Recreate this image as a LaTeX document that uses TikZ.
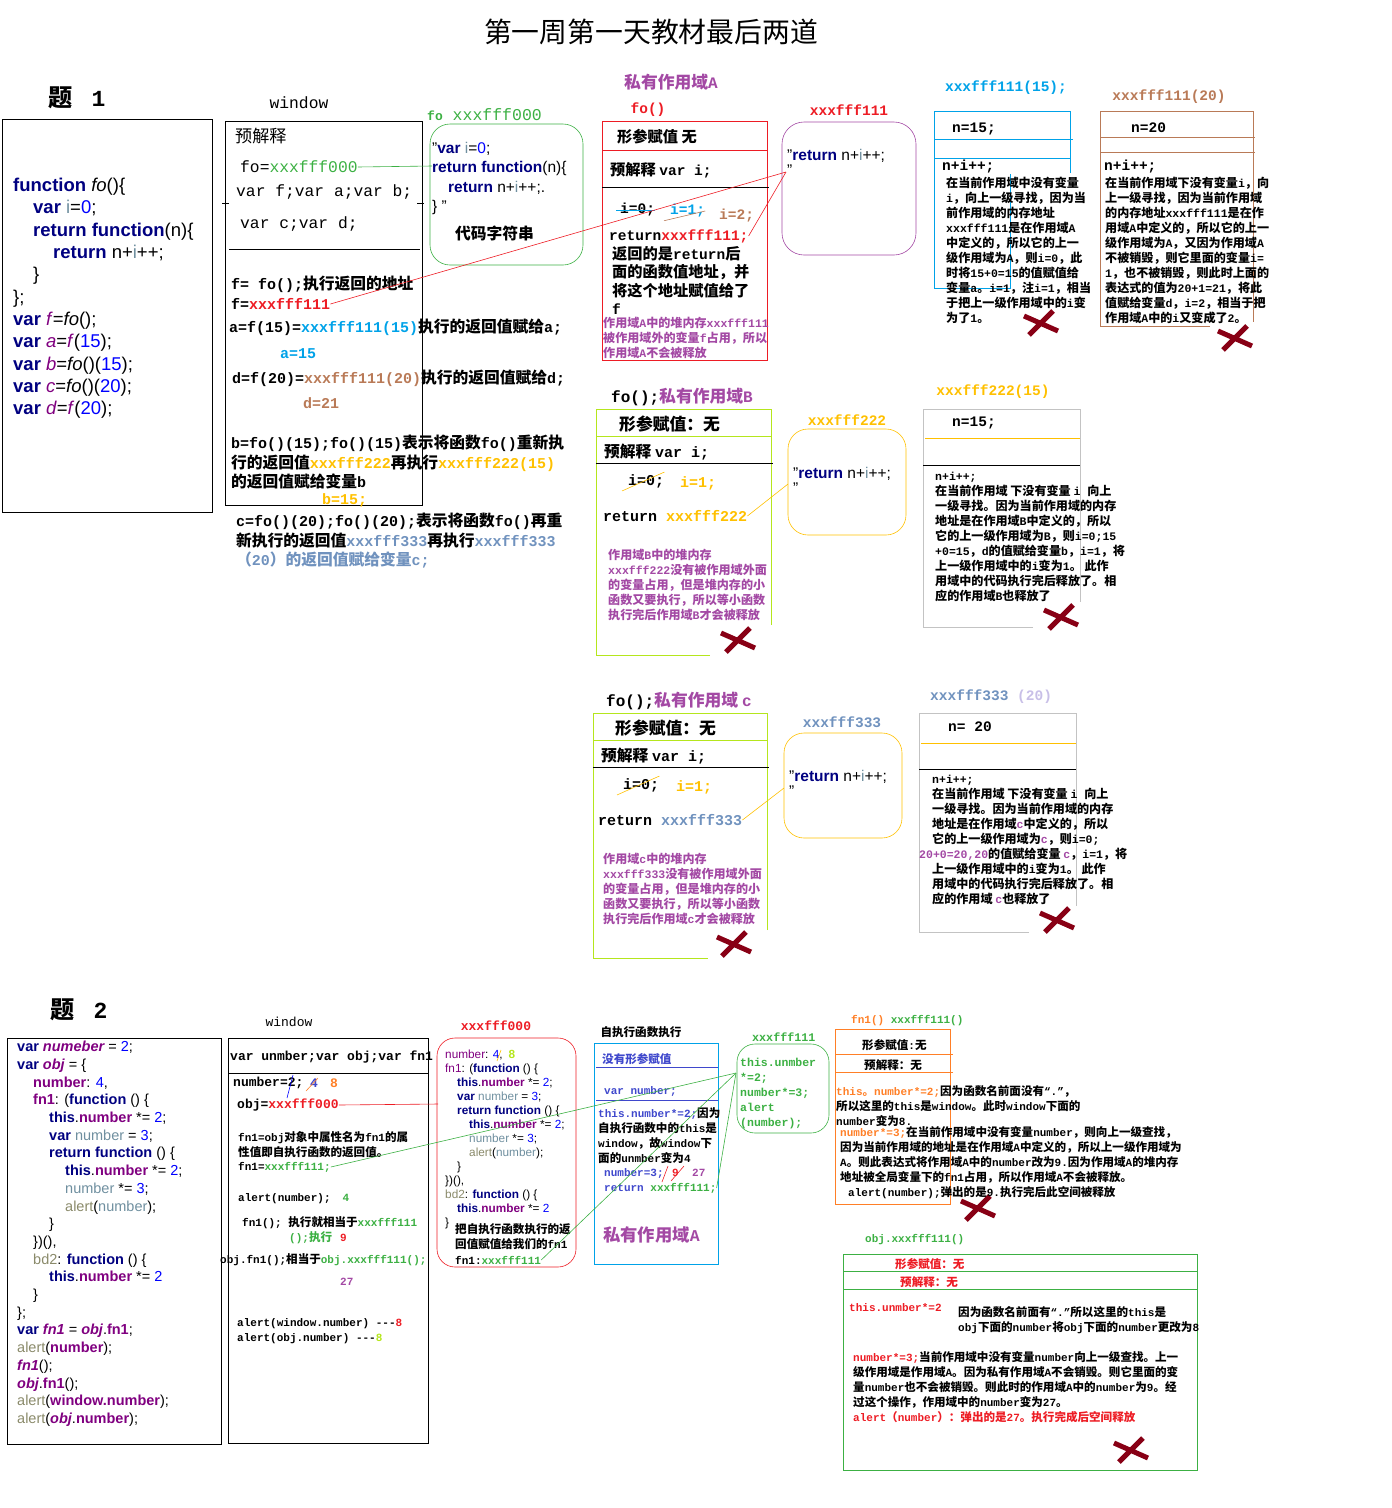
\documentclass[tikz,border=0pt]{standalone}
\usepackage{fontspec}
\setmainfont{Liberation Mono}
\newfontfamily\cjkfont[Scale=1.05]{Noto Sans CJK SC}
\newfontfamily\codefont{Liberation Sans}
% CJK runs switch to the CJK family by themselves
\newXeTeXintercharclass\cjkclass
\newcommand\setcjkrange[2]{\count255=#1\relax
  \loop\XeTeXcharclass\count255=\cjkclass\relax
  \advance\count255 by 1\relax
  \ifnum\count255<#2 \repeat}
\setcjkrange{"3000}{"3040}
\setcjkrange{"4E00}{"A000}
\setcjkrange{"FF00}{"FFF0}
\XeTeXinterchartoks 0 \cjkclass = {\cjkfont}
\XeTeXinterchartoks 4095 \cjkclass = {\cjkfont}
\XeTeXinterchartoks \cjkclass 0 = {\rmfamily}
\XeTeXinterchartoks 4095 0 = {\rmfamily}
\XeTeXinterchartokenstate=1
\newcommand\nocjk{\XeTeXinterchartokenstate=0\relax}
\usetikzlibrary{positioning}
\definecolor{kwnavy}{HTML}{000080}
\definecolor{numblue}{HTML}{0000FF}
\definecolor{idpurple}{HTML}{800080}
\definecolor{idgray}{HTML}{6F8F9F}
\definecolor{alertgray}{HTML}{8A8A6A}
\definecolor{addrgreen}{HTML}{3CB043}
\definecolor{addrred}{HTML}{ED1C24}
\definecolor{scopeviolet}{HTML}{A349A4}
\definecolor{addraqua}{HTML}{00A2E8}
\definecolor{addrbrown}{HTML}{B97A57}
\definecolor{addrgold}{HTML}{FFC000}
\definecolor{addrslate}{HTML}{7092BE}
\definecolor{limebox}{HTML}{B5E61D}
\definecolor{graybox}{HTML}{C3C3C3}
\definecolor{crossred}{HTML}{880015}
\definecolor{fnorange}{HTML}{FF7F27}
\definecolor{lilac}{HTML}{C8BFE7}
\definecolor{selfblue}{HTML}{3F48CC}
\newcommand\kw[1]{\textcolor{kwnavy}{\bfseries #1}}
\tikzset{
  frame/.style={draw=black,line width=0.9pt},
  tx/.style={anchor=west,inner sep=0pt,align=left},
  txn/.style={anchor=north west,inner sep=0pt,align=left},
  win/.style={font=\fontsize{16.3}{20}\selectfont},
  bold15/.style={font=\fontsize{15}{19.5}\selectfont\bfseries},
  bold14/.style={font=\fontsize{14.5}{19}\selectfont\bfseries},
  bold13/.style={font=\fontsize{13}{15}\selectfont\bfseries},
  memo/.style={font=\fontsize{11.5}{15}\selectfont\bfseries},
  small/.style={font=\fontsize{11}{15}\selectfont\bfseries},
  srcbig/.style={font=\nocjk\codefont\fontsize{18.5}{22.3}\selectfont},
  srcbox/.style={font=\nocjk\codefont\fontsize{15.5}{19.3}\selectfont},
  srcmid/.style={font=\nocjk\codefont\fontsize{14.5}{17.7}\selectfont},
  srcsmall/.style={font=\nocjk\codefont\fontsize{11.8}{14}\selectfont},
  thin/.style={line width=0.6pt},
  xmark/.style={draw=crossred,line width=5pt}
}
\begin{document}
\begin{tikzpicture}[x=1pt,y=-1pt]
\useasboundingbox (0,0) rectangle (1392,1508);
\node[font=\fontsize{26.5}{30}\selectfont] (title) at (651,32) {第一周第一天教材最后两道};

% ---- problem 1: source ----
\node[tx,font=\fontsize{23}{26}\selectfont\bfseries] (q1) at (48,98) {题\hspace{0.8em}1};
\draw[frame] (2,119) rectangle (212,512);
\node[txn,srcbig] (src1) at (13,178) {\kw{function} \textit{fo}()\{\\
\hspace*{20pt}\kw{var} \textcolor{idgray}{i}=\textcolor{numblue}{0};\\
\hspace*{20pt}\kw{return function}(n)\{\\
\hspace*{40pt}\kw{return} n+\textcolor{idgray}{i}++;\\
\hspace*{20pt}\}\\
\};\\
\kw{var} \textcolor{idpurple}{\textit{f}}=\textit{fo}();\\
\kw{var} \textcolor{idpurple}{\textit{a}}=\textcolor{idpurple}{\textit{f}}(\textcolor{numblue}{15});\\
\kw{var} \textcolor{idpurple}{\textit{b}}=\textit{fo}()(\textcolor{numblue}{15});\\
\kw{var} \textcolor{idpurple}{\textit{c}}=\textit{fo}()(\textcolor{numblue}{20});\\
\kw{var} \textcolor{idpurple}{\textit{d}}=\textcolor{idpurple}{\textit{f}}(\textcolor{numblue}{20});};

% ---- problem 1: window ----
\node[win] (win1) at (299,103) {window};
\draw[frame] (225,121) rectangle (422,505);
\node[tx,win] (pre1) at (235,136) {预解释};
\node[tx,win] (fo000) at (240,167) {fo=\textcolor{addrgreen}{xxxfff000}};
\node[tx,win] (vars1) at (236,192) {var f;var a;var b;};
\node[tx,win] (vars2) at (240,224) {var c;var d;};
\draw[frame] (222,203) -- (229,203) (417,203) -- (424,203);
\draw[frame] (229,249) -- (420,249);
\node[tx,bold15] (fcall) at (231,284) {f= fo();执行返回的地址};
\node[tx,bold15] (f111) at (231,304) {f=\textcolor{addrred}{xxxfff111}};
\node[tx,bold15] (a15) at (229,327) {a=f(15)=\textcolor{addraqua}{xxxfff111(15)}执行的返回值赋给a;};
\node[tx,bold15,text=addraqua] (aval) at (280,354) {a=15};
\node[tx,bold15] (d20) at (232,378) {d=f(20)=\textcolor{addrbrown}{xxxfff111(20)}执行的返回值赋给d;};
\node[tx,bold15,text=addrbrown] (dval) at (303,403) {d=21};
\node[txn,bold15] (bexp) at (231,435) {b=fo()(15);fo()(15)表示将函数fo()重新执\\
行的返回值\textcolor{addrgold}{xxxfff222}再执行\textcolor{addrgold}{xxxfff222(15)}\\
的返回值赋给变量b};
\node[tx,bold15,text=addrgold] (bval) at (322,500) {b=15;};
\node[txn,bold15] (cexp) at (236,513) {c=fo()(20);fo()(20);表示将函数fo()再重\\
新执行的返回值\textcolor{addrslate}{xxxfff333}再执行\textcolor{addrslate}{xxxfff333}\\
\textcolor{addrslate}{（20）的返回值赋给变量c;}};

% ---- fo xxxfff000 ----
\node[tx,text=addrgreen,font=\fontsize{16.5}{20}\selectfont] (folbl) at (427,115) {{\bfseries\fontsize{13}{15}\selectfont fo} xxxfff000};
\draw[draw=addrgreen,thin,rounded corners=20] (430,124) rectangle (583,265);
\node[txn,srcbox] (fosrc) at (432,142) {”\kw{var} \textcolor{idgray}{i}=\textcolor{numblue}{0};\\
\kw{return function}(n)\{\\
\hspace*{16pt}\kw{return} n+\textcolor{idgray}{i}++;.\\
\} ”};
\node[tx,bold15] (fostr) at (455,233) {代码字符串};
\coordinate (fobox) at (432,166);
\draw[addrgreen,thin] (fo000.east) -- (fobox);

% ---- private scope A ----
\node[font=\fontsize{16}{20}\selectfont\bfseries,text=scopeviolet] (scA) at (671,82) {私有作用域A};
\node[bold14,text=addrred] (foA) at (648,110) {fo()};
\draw[draw=addrred,thin] (602,121) rectangle (767,360);
\draw[draw=addrred,thin] (602,150) -- (767,150);
\draw[frame] (602,187) -- (769,187);
\node[tx,bold14] (argA) at (617,137) {形参赋值 无};
\node[tx,bold14] (preA) at (610,170) {预解释 var i;};
\node[tx,bold14] (i0A) at (620,210) {i=0;};
\draw[addraqua,thin] ([xshift=-4pt]i0A.west) -- (i0A.east);
\node[tx,bold14,text=addraqua] (i1A) at (670,211) {i=1;};
\draw[addrbrown,thin] ([xshift=-6pt,yshift=-3pt]i1A.south west) -- (i1A.east);
\node[tx,bold14,text=addrbrown] (i2A) at (719,216) {i=2;};
\node[tx,bold14] (ret111) at (609,236) {return\textcolor{addrred}{xxxfff111;}};
\node[txn,font=\fontsize{14.5}{18.5}\selectfont\bfseries] (retnote) at (612,246) {返回的是return后\\面的函数值地址，并\\将这个地址赋值给了\\f};
\node[txn,memo,text=scopeviolet] (heapA) at (603,317) {作用域A中的堆内存xxxfff111\\被作用域外的变量f占用，所以\\作用域A不会被释放};

% ---- xxxfff111 ----
\node[bold14,text=addrred] (l111) at (849,110) {xxxfff111};
\draw[draw=scopeviolet,thin,rounded corners=22] (782,122) rectangle (916,255);
\node[txn,srcbox] (src111) at (787,149) {”\kw{return} n+\textcolor{idgray}{i}++;\\[-4pt]”};
\coordinate (q111) at (786,172);
\draw[addrred,thin] (f111.east) -- (q111);
\draw[addrred,thin] (ret111.east) -- (q111);

% ---- xxxfff111(15) ----
\node[bold14,text=addraqua] (l15) at (1006,88) {xxxfff111(15);};
\draw[addraqua,thin] (1070,173) -- (1070,111) -- (934,111) -- (934,288) -- (1010,288) -- (1010,174);
\draw[addraqua,thin] (934,139) -- (1073,139) (934,158) -- (1070,158);
\node[tx,bold14] (n15) at (952,129) {n=15;};
\node[tx,bold14] (ni15) at (942,167) {n+i++;};
\node[txn,memo] (m15) at (946,177) {在当前作用域中没有变量\\i，向上一级寻找，因为当\\前作用域的内存地址\\xxxfff111是在作用域A\\中定义的，所以它的上一\\级作用域为A，则i=0，此\\时将15+0=15的值赋值给\\变量a。i=1，注i=1，相当\\于把上一级作用域中的i变\\为了1。};

% ---- xxxfff111(20) ----
\node[bold14,text=addrbrown] (l20) at (1169,97) {xxxfff111(20)};
\draw[addrbrown,thin] (1210,326) -- (1100,326) -- (1100,111) -- (1253,111) -- (1253,322);
\draw[addrbrown,thin] (1100,137) -- (1255,137) (1100,152) -- (1255,152);
\node[tx,bold14] (n20) at (1131,128) {n=20};
\node[tx,bold14] (ni20) at (1104,167) {n+i++;};
\node[txn,memo] (m20) at (1105,177) {在当前作用域下没有变量i，向\\上一级寻找，因为当前作用域\\的内存地址xxxfff111是在作\\用域A中定义的，所以它的上一\\级作用域为A，又因为作用域A\\不被销毁，则它里面的变量i=\\1，也不被销毁，则此时上面的\\表达式的值为20+1=21，将此\\值赋给变量d，i=2，相当于把\\作用域A中的i又变成了2。};

% ---- private scope B ----
\node[tx,font=\fontsize{16}{20}\selectfont\bfseries] (scB) at (611,397) {fo();\textcolor{scopeviolet}{私有作用域B}};
\draw[limebox,thin] (771,625) -- (771,409) -- (596,409) -- (596,655) -- (710,655);
\draw[limebox,thin] (596,436) -- (771,436);
\draw[frame] (596,463) -- (773,463);
\node[tx,font=\fontsize{16}{20}\selectfont\bfseries] (argB) at (619,424) {形参赋值：无};
\node[tx,bold15] (preB) at (604,452) {预解释 var i;};
\node[tx,bold15] (i0B) at (628,481) {i=0;};
\draw[addrgold,thin] ([xshift=-6pt,yshift=-3pt]i0B.south west) -- ([yshift=2pt]i0B.north east);
\node[tx,bold15,text=addrgold] (i1B) at (680,483) {i=1;};
\node[tx,bold15] (ret222) at (603,516) {return \textcolor{addrgold}{xxxfff222}};
\node[txn,memo,text=scopeviolet] (heapB) at (608,549) {作用域B中的堆内存\\xxxfff222没有被作用域外面\\的变量占用，但是堆内存的小\\函数又要执行，所以等小函数\\执行完后作用域B才会被释放};

% ---- xxxfff222 ----
\node[bold14,text=addrgold] (l222) at (847,420) {xxxfff222};
\draw[addrgold,thin,rounded corners=20] (788,429) rectangle (906,535);
\node[txn,srcbox] (src222) at (793,467) {”\kw{return} n+\textcolor{idgray}{i}++;\\[-4pt]”};
\coordinate (q222) at (788,484);
\draw[addrgold,thin] (ret222.east) -- (q222);

% ---- xxxfff222(15) ----
\node[bold14,text=addrgold] (l222b) at (993,392) {xxxfff222(15)};
\draw[graybox,thin] (1033,627) -- (923,627) -- (923,409) -- (1080,409) -- (1080,602);
\draw[addrgold,thin] (925,438) -- (1080,438);
\draw[frame] (923,465) -- (1080,465);
\node[tx,bold14] (n15b) at (952,423) {n=15;};
\node[txn,memo] (mB) at (935,472) {n+i++;\\在当前作用域 下没有变量 i 向上\\一级寻找。因为当前作用域的内存\\地址是在作用域B中定义的，所以\\它的上一级作用域为B，则i=0;15\\+0=15，d的值赋给变量b，i=1，将\\上一级作用域中的i变为1。 此作\\用域中的代码执行完后释放了。相\\应的作用域B也释放了};

% ---- private scope c ----
\node[tx,font=\fontsize{16}{20}\selectfont\bfseries] (scC) at (606,701) {fo();\textcolor{scopeviolet}{私有作用域 c}};
\draw[limebox,thin] (767,930) -- (767,713) -- (593,713) -- (593,958) -- (708,958);
\draw[limebox,thin] (593,740) -- (767,740);
\draw[frame] (593,767) -- (769,767);
\node[tx,font=\fontsize{16}{20}\selectfont\bfseries] (argC) at (615,728) {形参赋值：无};
\node[tx,bold15] (preC) at (601,756) {预解释 var i;};
\node[tx,bold15] (i0C) at (623,785) {i=0;};
\draw[addrgold,thin] ([xshift=-6pt,yshift=-3pt]i0C.south west) -- ([yshift=2pt]i0C.north east);
\node[tx,bold15,text=addrgold] (i1C) at (676,787) {i=1;};
\node[tx,bold15] (ret333) at (598,820) {return \textcolor{addrslate}{xxxfff333}};
\node[txn,memo,text=scopeviolet] (heapC) at (603,853) {作用域c中的堆内存\\xxxfff333没有被作用域外面\\的变量占用，但是堆内存的小\\函数又要执行，所以等小函数\\执行完后作用域c才会被释放};

% ---- xxxfff333 ----
\node[bold14,text=addrslate] (l333) at (842,722) {xxxfff333};
\draw[addrgold,thin,rounded corners=20] (784,733) rectangle (902,838);
\node[txn,srcbox] (src333) at (789,770) {”\kw{return} n+\textcolor{idgray}{i}++;\\[-4pt]”};
\coordinate (q333) at (784,788);
\draw[addrgold,thin] (ret333.east) -- (q333);

% ---- xxxfff333(20) ----
\node[tx,bold14,text=addrslate] (l333b) at (930,697) {xxxfff333 \textcolor{lilac}{(20)}};
\draw[graybox,thin] (1029,932) -- (919,932) -- (919,713) -- (1076,713) -- (1076,906);
\draw[addrgold,thin] (921,743) -- (1076,743);
\draw[frame] (919,769) -- (1076,769);
\node[tx,bold14] (n20b) at (948,727) {n= 20};
\node[txn,memo] (mC) at (932,775) {n+i++;\\在当前作用域 下没有变量 i 向上\\一级寻找。因为当前作用域的内存\\地址是在作用域\textcolor{scopeviolet}{c}中定义的，所以\\它的上一级作用域为\textcolor{scopeviolet}{c}，则i=0;\\\hspace*{-13pt}\textcolor{scopeviolet}{20+0=20,20}的值赋给变量 \textcolor{scopeviolet}{c}，i=1，将\\上一级作用域中的i变为1。 此作\\用域中的代码执行完后释放了。相\\应的作用域 \textcolor{scopeviolet}{c}也释放了};

\foreach \cx/\cy in {1041/323,1235/338,738/640,1061/617,734/944,1057/920,978/1208,1131/1450}{
  \draw[xmark] (\cx-17,\cy-7) -- (\cx+17,\cy+8) (\cx-12,\cy+12) -- (\cx+12,\cy-12);
}

% ---- problem 2: source ----
\node[tx,font=\fontsize{23}{26}\selectfont\bfseries] (q2) at (50,1010) {题\hspace{0.8em}2};
\draw[frame] (7,1038) rectangle (221,1444);
\node[txn,srcmid] (src2) at (17,1041) {\kw{var} \textcolor{idpurple}{\bfseries\itshape numeber} = \textcolor{numblue}{2};\\
\kw{var} \textcolor{idpurple}{\bfseries\itshape obj} = \{\\
\hspace*{16pt}\textcolor{idpurple}{\bfseries number}: \textcolor{numblue}{4},\\
\hspace*{16pt}\textcolor{idpurple}{\bfseries fn1}: (\kw{function} () \{\\
\hspace*{32pt}\kw{this}.\textcolor{idpurple}{\bfseries number} *= \textcolor{numblue}{2};\\
\hspace*{32pt}\kw{var} \textcolor{idgray}{number} = \textcolor{numblue}{3};\\
\hspace*{32pt}\kw{return function} () \{\\
\hspace*{48pt}\kw{this}.\textcolor{idpurple}{\bfseries number} *= \textcolor{numblue}{2};\\
\hspace*{48pt}\textcolor{idgray}{number} *= \textcolor{numblue}{3};\\
\hspace*{48pt}\textcolor{alertgray}{alert}(\textcolor{idgray}{number});\\
\hspace*{32pt}\}\\
\hspace*{16pt}\})(),\\
\hspace*{16pt}\textcolor{alertgray}{bd2}: \kw{function} () \{\\
\hspace*{32pt}\kw{this}.\textcolor{idpurple}{\bfseries number} *= \textcolor{numblue}{2}\\
\hspace*{16pt}\}\\
\};\\
\kw{var} \textcolor{idpurple}{\bfseries\itshape fn1} = \textcolor{idpurple}{\bfseries\itshape obj}.\textcolor{idpurple}{\bfseries fn1};\\
\textcolor{alertgray}{alert}(\textcolor{idpurple}{\bfseries number});\\
\textcolor{idpurple}{\bfseries\itshape fn1}();\\
\textcolor{idpurple}{\bfseries\itshape obj}.\textcolor{idpurple}{\bfseries fn1}();\\
\textcolor{alertgray}{alert}(\textcolor{idpurple}{\bfseries window.number});\\
\textcolor{alertgray}{alert}(\textcolor{idpurple}{\bfseries\itshape obj}.\textcolor{idpurple}{\bfseries number});};

% ---- problem 2: window ----
\node[font=\fontsize{13}{15}\selectfont] (win2) at (289,1022) {window};
\draw[frame] (228,1038) rectangle (428,1443);
\node[tx,bold13] (vars3) at (230,1057) {var unmber;var obj;var fn1};
\draw[frame] (228,1073) -- (428,1073);
\node[tx,bold13] (num2) at (233,1083) {number=2;};
\node[tx,bold13,text=selfblue] (num4) at (310,1083) {4};
\node[tx,bold13,text=fnorange] (num8) at (330,1083) {8};
\draw[numblue,thin] (293,1075) -- (287,1098);
\draw[fnorange,thin] (306,1091) -- (318,1078);
\node[tx,bold13] (obj000) at (237,1105) {obj=\textcolor{addrred}{xxxfff000}};
\coordinate (box000) at (438,1104);
\draw[addrred,thin] (obj000.east) -- (box000);
\node[txn,small] (fn1note) at (238,1131) {fn1=obj对象中属性名为fn1的属\\性值即自执行函数的返回值。};
\node[tx,small] (fn1val) at (238,1167) {fn1=\textcolor{addrgreen}{xxxfff111;}};
\node[tx,small] (alert1) at (238,1199) {alert(number);\hspace{12pt}\textcolor{addrgreen}{4}};
\node[tx,small] (fn1call) at (242,1223) {fn1(); 执行就相当于\textcolor{addrgreen}{xxxfff111}};
\node[tx,small] (fn1exec) at (289,1238) {\textcolor{addrgreen}{();执行}\hspace{8pt}\textcolor{addrred}{9}};
\node[tx,small] (objcall) at (220,1260) {obj.fn1();相当于\textcolor{addrgreen}{obj.xxxfff111();}};
\node[tx,small,text=scopeviolet] (r27) at (340,1282) {27};
\node[tx,small] (awin) at (237,1324) {alert(window.number) -{}-{}-\textcolor{addrred}{8}};
\node[tx,small] (aobj) at (237,1339) {alert(obj.number)  -{}-{}-\textcolor{limebox}{8}};

% ---- xxxfff000 ----
\node[bold13,text=addrred] (l000) at (496,1026) {xxxfff000};
\draw[addrred,thin,rounded corners=18] (437,1038) rectangle (576,1267);
\node[txn,srcsmall] (src000) at (445,1050) {\textcolor{idpurple}{number}: \textcolor{numblue}{4},\hspace{6pt}\textcolor{limebox}{\bfseries 8}\\
\textcolor{idpurple}{fn1}: (\kw{function} () \{\\
\hspace*{12pt}\kw{this}.\textcolor{idpurple}{\bfseries number} *= \textcolor{numblue}{2};\\
\hspace*{12pt}\kw{var} \textcolor{idgray}{number} = \textcolor{numblue}{3};\\
\hspace*{12pt}\kw{return function} () \{\\
\hspace*{24pt}\kw{this}.\textcolor{idpurple}{\bfseries number} *= \textcolor{numblue}{2};\\
\hspace*{24pt}\textcolor{idgray}{number} *= \textcolor{numblue}{3};\\
\hspace*{24pt}\textcolor{alertgray}{alert}(\textcolor{idgray}{number});\\
\hspace*{12pt}\}\\
\})(),\\
\textcolor{alertgray}{bd2}: \kw{function} () \{\\
\hspace*{12pt}\kw{this}.\textcolor{idpurple}{\bfseries number} *= \textcolor{numblue}{2}\\
\}};
\draw[addrgold,thin] (497,1061) -- (501,1050);
\node[txn,small] (retnote2) at (455,1223) {把自执行函数执行的返\\回值赋值给我们的fn1};
\node[tx,small] (fn1addr) at (455,1260) {fn1:\textcolor{addrgreen}{xxxfff111}};

% ---- self-executing function ----
\node[small] (selfexec) at (641,1032) {自执行函数执行};
\draw[addraqua,thin] (594,1043) rectangle (718,1264);
\draw[selfblue,thin] (596,1067) -- (718,1067) (596,1100) -- (718,1100);
\node[tx,small,text=selfblue] (noarg) at (602,1059) {没有形参赋值};
\node[tx,small,text=selfblue] (varnum) at (604,1091) {var number;};
\node[txn,small] (thisnote) at (598,1107) {\textcolor{selfblue}{this.number*=2;}因为\\自执行函数中的this是\\window，故window下\\面的unmber变为4};
\node[tx,small,text=selfblue] (num3) at (604,1173) {number=3;};
\node[tx,small,text=addrred] (num9) at (672,1173) {9};
\node[tx,small,text=scopeviolet] (num27) at (692,1173) {27};
\draw[addrred,thin] (662,1182) -- (668,1166) (671,1181) -- (684,1166);
\node[tx,small] (ret111b) at (604,1188) {\textcolor{selfblue}{return} \textcolor{addrgreen}{xxxfff111;}};
\node[tx,font=\fontsize{16.5}{20}\selectfont\bfseries,text=scopeviolet] (scA2) at (603,1235) {私有作用域A};

% ---- xxxfff111 (problem 2) ----
\node[tx,font=\fontsize{11.7}{14}\selectfont\bfseries,text=addrgreen] (l111b) at (752,1037) {xxxfff111};
\draw[addrgreen,thin,rounded corners=18] (737,1044) rectangle (829,1133);
\node[txn,memo,text=addrgreen] (src111b) at (740,1058) {this.unmber\\*=2;\\number*=3;\\alert\\(number);};
\coordinate (q111b) at (736,1073);
\draw[addrgreen,thin] (fn1val.east) -- (q111b);
\draw[addrgreen,thin] (fn1addr.east) -- (q111b);
\draw[addrgreen,thin] (ret111b.east) -- (q111b);

% ---- fn1() ----
\node[tx,small] (lfn1) at (851,1021) {\textcolor{fnorange}{fn1()} \textcolor{addrgreen}{xxxfff111()}};
\draw[fnorange,thin] (835,1029) rectangle (950,1204);
\draw[fnorange,thin] (835,1054) -- (953,1054) (835,1072) -- (953,1072);
\node[tx,small] (argF) at (862,1045) {形参赋值:无};
\node[tx,small] (preF) at (864,1065) {预解释：无};
\node[txn,small] (fnote) at (836,1085) {\textcolor{fnorange}{this。number*=2;}因为函数名前面没有“.”，\\所以这里的this是window。此时window下面的\\number变为8.};
\node[txn,small] (fnote2) at (840,1126) {\textcolor{fnorange}{number*=3;}在当前作用域中没有变量number，则向上一级查找，\\因为当前作用域的地址是在作用域A中定义的，所以上一级作用域为\\A。则此表达式将作用域A中的number改为9.因为作用域A的堆内存\\地址被全局变量下的fn1占用，所以作用域A不会被释放。\\\hspace*{8pt}alert(number);弹出的是9.执行完后此空间被释放};

% ---- obj.fn1() ----
\node[tx,small,text=addrgreen] (lobj) at (865,1240) {obj.xxxfff111()};
\draw[addrgreen,thin] (843,1254) rectangle (1197,1470);
\draw[addrgreen,thin] (843,1271) -- (1197,1271) (843,1289) -- (1197,1289);
\node[tx,small,text=addrred] (argO) at (895,1264) {形参赋值：无};
\node[tx,small,text=addrred] (preO) at (900,1282) {预解释：无};
\node[tx,small,text=addrred] (thisO) at (849,1308) {this.unmber*=2};
\node[txn,small] (onote) at (958,1306) {因为函数名前面有“.”所以这里的this是\\obj下面的number将obj下面的number更改为8};
\node[txn,small] (onote2) at (853,1351) {\textcolor{addrred}{number*=3;}当前作用域中没有变量number向上一级查找。上一\\级作用域是作用域A。因为私有作用域A不会销毁。则它里面的变\\量number也不会被销毁。则此时的作用域A中的number为9。经\\过这个操作，作用域中的number变为27。\\\textcolor{addrred}{alert（number）：弹出的是27。执行完成后空间释放}};
\end{tikzpicture}
\end{document}
